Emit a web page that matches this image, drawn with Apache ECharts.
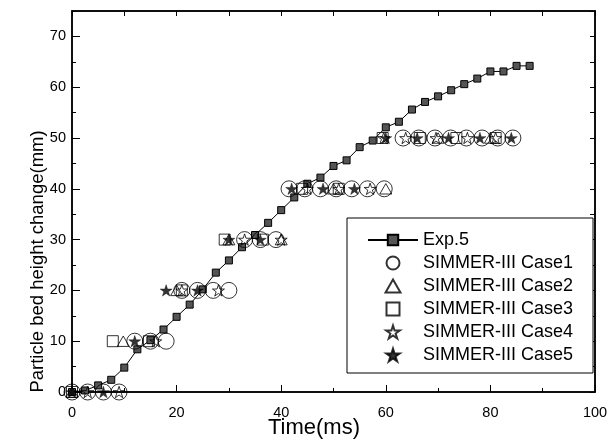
<!DOCTYPE html>
<html>
<head>
    <meta charset="utf-8" />
    <title>Particle bed height change</title>
    <script src="https://cdn.jsdelivr.net/npm/echarts@6/dist/echarts.min.js"></script>
    <style>
        html, body { margin: 0; padding: 0; background: #fff; }
        #chart { width: 608px; height: 441px; }
    </style>
</head>
<body>
    <div id="chart"></div>
    <script>
        // 实验数据 Exp.5
        var expT = [0, 2.5, 5, 7.5, 10, 12.5, 15, 17.5, 20, 22.5, 25, 27.5, 30, 32.5, 35, 37.5, 40, 42.5,
            45, 47.5, 50, 52.5, 55, 57.5, 60, 62.5, 65, 67.5, 70, 72.5, 75, 77.5, 80, 82.5, 85, 87.5];
        var expV = [0, 0.3, 1.3, 2.4, 4.8, 8.4, 10.2, 12.3, 14.8, 17.2, 20.2, 23.5, 25.9, 28.5, 30.9, 33.3, 35.8, 38.3,
            41.0, 42.2, 44.5, 45.6, 48.2, 49.5, 52.1, 53.2, 55.6, 57.1, 58.2, 59.4, 60.6, 61.7, 63.1, 63.1, 64.2, 64.2];

        // SIMMER-III 计算结果
        var case1T = [0, 3, 6, 9, 12, 15, 18, 21, 24, 27, 30, 33, 36, 39, 41.5, 44.5, 47.5, 50.5, 53.5, 56.5, 59.7,
            63.3, 66.3, 69.4, 72.4, 75.4, 78.4, 81.4, 84.3];
        var case1V = [0, 0, 0, 0, 10, 10, 10, 20, 20, 20, 20, 30, 30, 30, 40, 40, 40, 40, 40, 40, 40,
            50, 50, 50, 50, 50, 50, 50, 50];
        var case2T = [0, 9.8, 20, 30, 40, 50, 60, 70, 80];
        var case2V = [0, 10, 20, 30, 30, 40, 40, 50, 50];
        var case3T = [0, 7.8, 14.7, 21, 29.2, 36.5, 44, 51, 59.4, 66.5, 73.5, 81];
        var case3V = [0, 10, 10, 20, 30, 30, 40, 40, 50, 50, 50, 50];
        var case4T = [3, 9, 16, 21, 28, 33, 40, 45, 51, 57, 59.6, 63.8, 69.6, 75.6, 81];
        var case4V = [0, 0, 10, 20, 20, 30, 30, 40, 40, 40, 50, 50, 50, 50, 50];
        var case5T = [0, 6, 12, 18, 24, 30, 36, 42, 48, 54, 60, 66, 72, 78, 84];
        var case5V = [0, 0, 10, 20, 20, 30, 30, 40, 40, 40, 50, 50, 50, 50, 50];

        var names = ['Exp.5', 'SIMMER-III Case1', 'SIMMER-III Case2', 'SIMMER-III Case3', 'SIMMER-III Case4', 'SIMMER-III Case5'];
        var xTicks = [0, 20, 40, 60, 80, 100];
        var yTicks = [0, 10, 20, 30, 40, 50, 60, 70];

        // 符号（用 path 才能在图例里保持比例）
        var starPath = 'path://M50,0 L61.2,34.5 L97.6,34.5 L68.2,55.9 L79.4,90.5 L50,69.1 L20.6,90.5 L31.8,55.9 L2.4,34.5 L38.8,34.5 Z';
        var triPath = 'path://M50,0 L100,87 L0,87 Z';
        var rectPath = 'path://M0,0 L100,0 L100,100 L0,100 Z';

        function pairs(t, v) {
            return t.map(function (x, i) { return [x, v[i]]; });
        }

        var font = 'Liberation Sans, Arial, sans-serif';
        var hollow = { color: 'rgba(0,0,0,0)', borderColor: '#000', borderWidth: 1 };

        function simSeries(name, t, v, symbol, size, style) {
            return {
                name: name,
                type: 'scatter',
                xAxisIndex: 0,
                yAxisIndex: 0,
                data: pairs(t, v),
                symbol: symbol,
                symbolSize: size,
                symbolKeepAspect: true,
                itemStyle: style
            };
        }

        var myChart = echarts.init(document.getElementById('chart'));
        var option = {
            animation: false,
            textStyle: { fontFamily: font },
            grid: {
                left: 72, right: 13, top: 11, bottom: 49,
                containLabel: false, outerBoundsMode: 'none',
                show: true, borderColor: '#000', borderWidth: 1.5
            },
            xAxis: [{
                type: 'value', position: 'bottom', min: xTicks[0], max: xTicks[xTicks.length - 1], interval: 20,
                name: 'Time(ms)', nameLocation: 'middle', nameGap: 25, nameMoveOverlap: false,
                nameTextStyle: { fontSize: 22, color: '#000', fontFamily: font, padding: [0, 39, 0, 0] },
                axisLine: { onZero: false, lineStyle: { color: '#000', width: 1.5 } },
                axisTick: { inside: true, length: 7, lineStyle: { color: '#000' } },
                minorTick: { show: true, splitNumber: 2, length: 4, lineStyle: { color: '#000' } },
                axisLabel: { fontSize: 14.5, color: '#000', margin: 13 },
                splitLine: { show: false }
            }, {
                type: 'value', position: 'top', min: 0, max: 100, interval: 10,
                axisLine: { show: true, onZero: false, lineStyle: { color: '#000', width: 1.5 } },
                axisTick: { show: true, inside: true, length: 5, lineStyle: { color: '#000' } },
                axisLabel: { show: false },
                splitLine: { show: false }
            }],
            yAxis: [{
                type: 'value', position: 'left', min: yTicks[0], max: 75, interval: 10,
                name: 'Particle bed height change(mm)', nameLocation: 'middle', nameGap: 25, nameMoveOverlap: false,
                nameTextStyle: { fontSize: 18.5, color: '#000', fontFamily: font, padding: [0, 120, 0, 0] },
                axisLine: { onZero: false, lineStyle: { color: '#000', width: 1.5 } },
                axisTick: { inside: true, length: 8, lineStyle: { color: '#000' } },
                axisLabel: { fontSize: 14.5, color: '#000', margin: 6, showMaxLabel: false },
                splitLine: { show: false }
            }, {
                type: 'value', position: 'left', min: 0, max: 75, interval: 5,
                axisLine: { show: false, onZero: false },
                axisTick: { inside: true, length: 4, lineStyle: { color: '#000' } },
                axisLabel: { show: false },
                splitLine: { show: false }
            }, {
                type: 'value', position: 'right', min: 0, max: 75, interval: 5,
                axisLine: { show: true, onZero: false, lineStyle: { color: '#000', width: 1.5 } },
                axisTick: { show: true, inside: true, length: 5, lineStyle: { color: '#000' } },
                axisLabel: { show: false },
                splitLine: { show: false }
            }],
            legend: {
                data: names,
                orient: 'vertical',
                left: 347,
                top: 218,
                padding: [13, 20, 9, 20],
                itemWidth: 50,
                itemHeight: 13,
                itemGap: 5,
                symbolKeepAspect: true,
                borderColor: '#000',
                borderWidth: 1,
                backgroundColor: '#fff',
                textStyle: { fontSize: 18, color: '#000', fontFamily: font }
            },
            series: [{
                name: names[0],
                type: 'line',
                xAxisIndex: 0,
                yAxisIndex: 0,
                data: pairs(expT, expV),
                symbol: 'rect',
                symbolSize: 7,
                itemStyle: { color: '#555', borderColor: '#000', borderWidth: 1 },
                lineStyle: { color: '#000', width: 1 },
                z: 1
            },
                simSeries(names[1], case1T, case1V, 'circle', 16, hollow),
                simSeries(names[2], case2T, case2V, triPath, 12, hollow),
                simSeries(names[3], case3T, case3V, rectPath, 11, hollow),
                simSeries(names[4], case4T, case4V, starPath, 12, hollow),
                simSeries(names[5], case5T, case5V, starPath, 12, { color: '#000', borderColor: '#000', borderWidth: 0.5 }),
            {
                // 让上方和右侧的坐标轴有所依附
                type: 'scatter', xAxisIndex: 1, yAxisIndex: 2, data: [], silent: true
            }]
        };
        myChart.setOption(option);
    </script>
</body>
</html>
